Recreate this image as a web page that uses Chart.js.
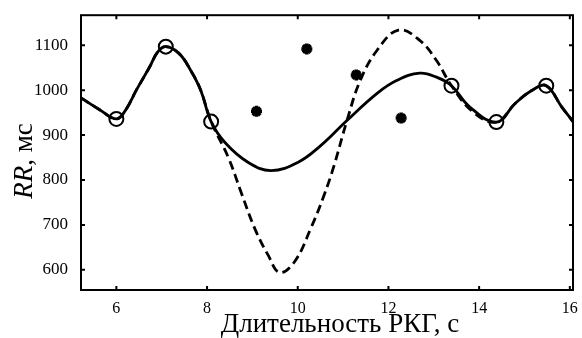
<!DOCTYPE html>
<html>
<head>
<meta charset="utf-8">
<script src="https://cdn.jsdelivr.net/npm/chart.js@4.4.1/dist/chart.umd.min.js"></script>
<style>
  html, body { margin: 0; padding: 0; background: #fff; }
  #wrap { width: 582px; height: 338px; position: relative; }
</style>
</head>
<body>
<div id="wrap"><canvas id="myChart" width="582" height="338"></canvas></div>
<script>
  // solid curve
  const solidX = [5.22, 5.64, 6.0, 6.2, 6.44, 6.73, 6.91, 7.09, 7.38, 7.64, 7.86, 8.09, 8.4, 8.91, 9.41, 10.0, 10.5, 11.09, 11.75, 12.19, 12.69, 13.06, 13.39, 13.79, 14.38, 14.8, 15.17, 15.48, 15.82, 16.07];
  const solidY = [983, 956, 936, 955, 1000, 1051, 1085, 1097, 1082, 1044, 1000, 930, 883, 839, 821, 839, 876, 933, 993, 1022, 1038, 1029, 1010, 963, 929, 971, 1000, 1010, 963, 930];
  // dashed curve
  const dashX = [5.22, 5.64, 6.0, 6.2, 6.44, 6.73, 6.91, 7.09, 7.38, 7.64, 7.86, 8.09, 8.47, 8.76, 9.06, 9.35, 9.6, 9.93, 10.29, 10.58, 10.8, 11.09, 11.38, 11.75, 12.22, 12.69, 13.06, 13.39, 13.86, 14.38, 14.8, 15.17, 15.48, 15.82, 16.07];
  const dashY = [983, 956, 936, 955, 1000, 1051, 1085, 1097, 1082, 1044, 1000, 930, 850, 770, 690, 632, 594, 618, 693, 766, 832, 934, 1022, 1089, 1134, 1111, 1066, 1010, 952, 929, 971, 1000, 1010, 963, 930];
  // open circles
  const circX = [6.0, 7.09, 8.09, 13.39, 14.38, 15.48];
  const circY = [936, 1097, 930, 1010, 929, 1010];
  // stars
  const starX = [9.09, 10.2, 11.29, 12.28];
  const starY = [953, 1092, 1034, 938];

  const xTicks = [6, 8, 10, 12, 14, 16];
  const yTicks = [600, 700, 800, 900, 1000, 1100];

  function pts(xs, ys) {
    return xs.map(function (x, i) { return { x: x, y: ys[i] }; });
  }

  const serif = '"Liberation Serif", "DejaVu Serif", serif';

  // frame + inward ticks + axis titles
  const framePlugin = {
    id: 'frame',
    afterDraw: function (chart) {
      const c = chart.ctx;
      const a = chart.chartArea;
      const xs = chart.scales.x, ys = chart.scales.y;
      c.save();
      c.strokeStyle = '#000';
      c.lineWidth = 2;
      c.strokeRect(a.left, a.top, a.right - a.left, a.bottom - a.top);
      xTicks.forEach(function (v) {
        const px = xs.getPixelForValue(v);
        c.beginPath();
        c.moveTo(px, a.bottom); c.lineTo(px, a.bottom - 4);
        c.moveTo(px, a.top); c.lineTo(px, a.top + 4);
        c.stroke();
      });
      yTicks.forEach(function (v) {
        const py = ys.getPixelForValue(v);
        c.beginPath();
        c.moveTo(a.left, py); c.lineTo(a.left + 4, py);
        c.moveTo(a.right, py); c.lineTo(a.right - 4, py);
        c.stroke();
      });
      c.fillStyle = '#000';
      c.textBaseline = 'alphabetic';
      // x title
      c.font = '27px ' + serif;
      c.textAlign = 'center';
      c.fillText('Длительность РКГ, с', 340, 332);
      // y title: italic RR + ", мс"
      c.textAlign = 'left';
      c.translate(32, 161);
      c.rotate(-Math.PI / 2);
      c.font = 'italic 27px ' + serif;
      const w1 = c.measureText('RR').width;
      c.font = '27px ' + serif;
      const w2 = c.measureText(', мс').width;
      const x0 = -(w1 + w2) / 2;
      c.font = 'italic 27px ' + serif;
      c.fillText('RR', x0, 0);
      c.font = '27px ' + serif;
      c.fillText(', мс', x0 + w1, 0);
      c.restore();
    }
  };

  const ctx = document.getElementById('myChart');

  new Chart(ctx, {
    type: 'line',
    data: {
      datasets: [
        {
          label: 'solid',
          data: pts(solidX, solidY),
          borderColor: '#000',
          borderWidth: 2.8,
          pointRadius: 0,
          tension: 0.4,
          fill: false
        },
        {
          label: 'dashed',
          data: pts(dashX, dashY),
          borderColor: '#000',
          borderWidth: 2.8,
          borderDash: [9, 5],
          pointRadius: 0,
          tension: 0.4,
          fill: false
        },
        {
          label: 'circles',
          data: pts(circX, circY),
          showLine: false,
          pointStyle: 'circle',
          pointRadius: 7,
          pointBorderWidth: 2,
          pointBorderColor: '#000',
          pointBackgroundColor: 'rgba(0,0,0,0)'
        },
        {
          label: 'stars',
          data: pts(starX, starY),
          showLine: false,
          pointStyle: 'star',
          pointRadius: 5.5,
          pointBorderWidth: 3.5,
          pointBorderColor: '#000',
          pointBackgroundColor: '#000'
        }
      ]
    },
    options: {
      responsive: false,
      animation: false,
      layout: { padding: { left: 0, right: 4, top: 11, bottom: 0 } },
      plugins: {
        legend: { display: false },
        tooltip: { enabled: false }
      },
      scales: {
        x: {
          type: 'linear',
          min: 5.22,
          max: 16.07,
          afterBuildTicks: function (s) { s.ticks = xTicks.map(function (v) { return { value: v }; }); },
          afterFit: function (s) { s.height = 48; },
          grid: { display: false },
          border: { display: false },
          ticks: {
            color: '#000',
            padding: 1,
            maxRotation: 0,
            font: { family: serif, size: 16 },
            callback: function (v) { return String(v); }
          }
        },
        y: {
          type: 'linear',
          min: 555,
          max: 1167,
          afterBuildTicks: function (s) { s.ticks = yTicks.map(function (v) { return { value: v }; }); },
          afterFit: function (s) { s.width = 81; },
          grid: { display: false },
          border: { display: false },
          ticks: {
            color: '#000',
            padding: 5,
            font: { family: serif, size: 17 },
            callback: function (v) { return String(v); }
          }
        }
      }
    },
    plugins: [framePlugin]
  });
</script>
</body>
</html>
